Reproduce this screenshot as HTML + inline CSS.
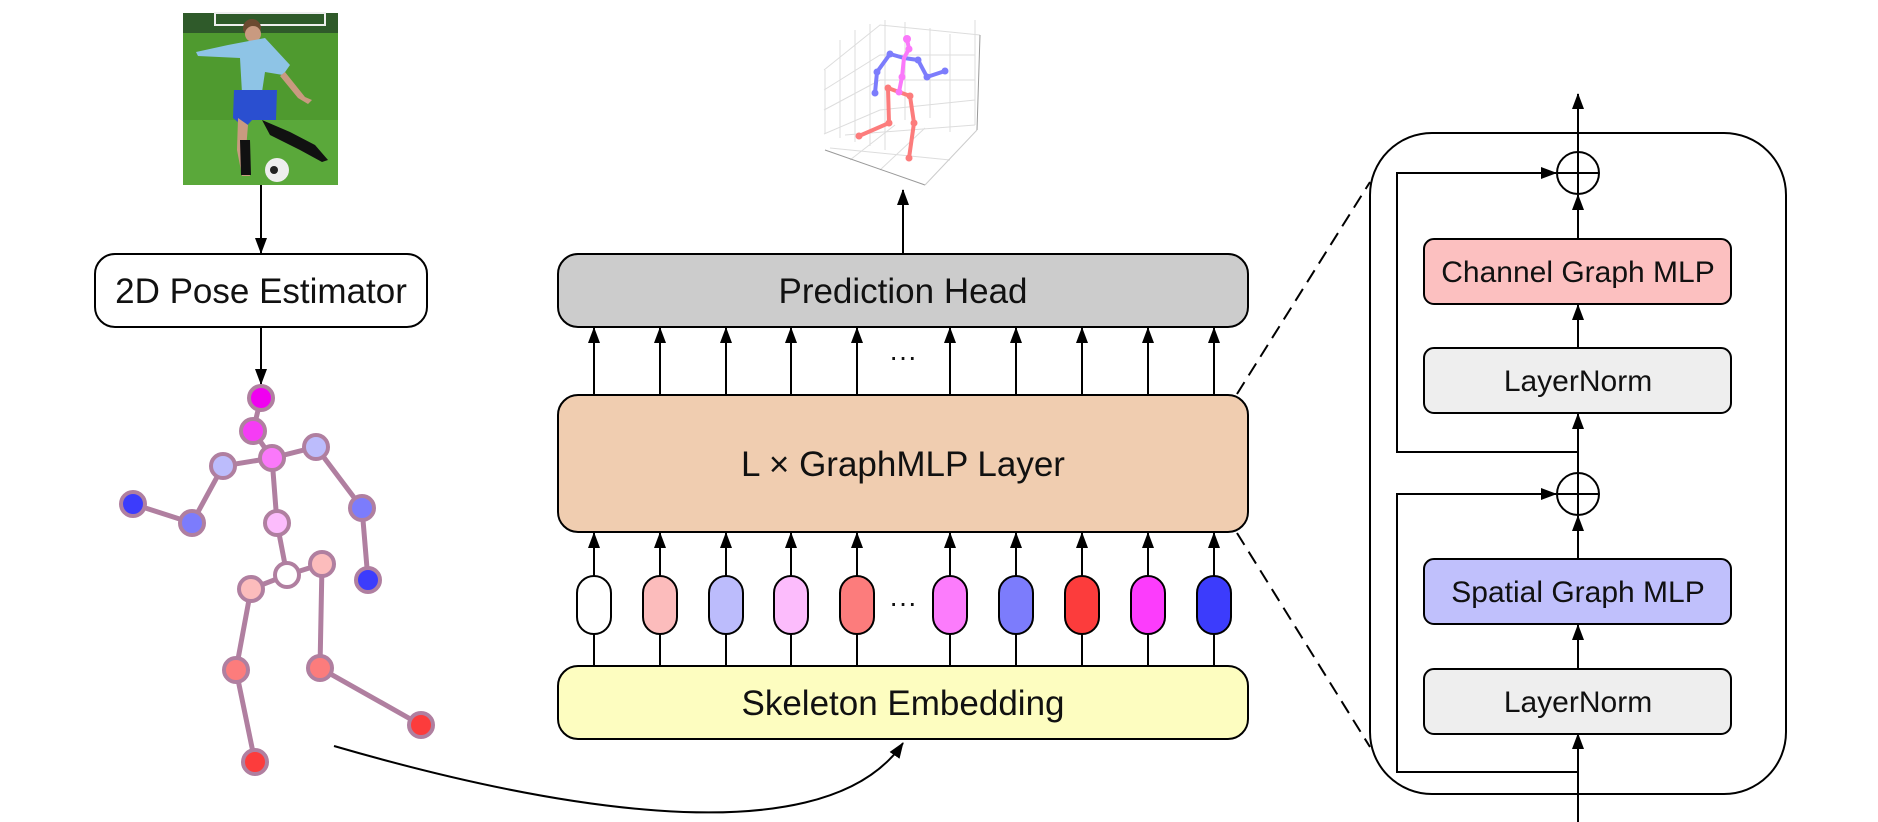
<!DOCTYPE html>
<html><head><meta charset="utf-8"><style>
html,body{margin:0;padding:0;background:#fff;}
svg{display:block;}
text{font-family:"Liberation Sans",sans-serif;fill:#111;}
</style></head><body>
<svg width="1878" height="822" viewBox="0 0 1878 822" xmlns="http://www.w3.org/2000/svg">
<defs>
<marker id="ahb" markerWidth="16" markerHeight="14" refX="15" refY="7" orient="auto" markerUnits="userSpaceOnUse">
<path d="M0,1 L16,7 L0,13 Z" fill="#000"/></marker>
</defs>

<!-- photo -->
<rect x="183" y="13" width="155" height="172" fill="#4f9a2f"/>
<rect x="183" y="13" width="155" height="20" fill="#2f5a2a"/>
<rect x="215" y="13" width="110" height="12" fill="none" stroke="#eee" stroke-width="2"/>
<rect x="183" y="120" width="155" height="65" fill="#5aa83a"/>
<circle cx="252" cy="28" r="9" fill="#6b4a30"/>
<circle cx="253" cy="34" r="8" fill="#c99a80"/>
<path d="M196,52 L228,45 L265,38 L290,65 L283,75 L265,72 L262,92 L242,93 L240,58 L198,56Z" fill="#8ec4e6"/>
<path d="M285,72 L305,97 L312,100 L308,104 L298,98 L280,76Z" fill="#c99a80"/>
<path d="M234,90 L277,90 L276,120 L252,120 L245,128 L233,118Z" fill="#2a4fd0"/>
<path d="M238,118 L237,150 L242,176 L250,176 L246,150 L248,125Z" fill="#c99a80"/>
<path d="M240,140 L250,140 L251,175 L241,175Z" fill="#111"/>
<path d="M262,120 L290,132 L315,145 L328,160 L322,162 L300,150 L270,135Z" fill="#111"/>
<circle cx="277" cy="170" r="12" fill="#eee"/>
<circle cx="274" cy="170" r="4" fill="#222"/>

<line x1="261" y1="185" x2="261" y2="253" stroke="#000" stroke-width="2" marker-end="url(#ahb)"/>
<rect x="95" y="254" width="332" height="73" rx="20" fill="#fff" stroke="#000" stroke-width="2"/>
<text x="261" y="303" font-size="35" text-anchor="middle">2D Pose Estimator</text>
<line x1="261" y1="327" x2="261" y2="384" stroke="#000" stroke-width="2" marker-end="url(#ahb)"/>

<!-- 2D skeleton -->
<g stroke="#b07fa0" stroke-width="5" fill="none">
<polyline points="261,398 253,431 272,458 277,523 287,575"/>
<polyline points="133,504 192,523 223,466 272,458 316,447 362,508 368,580"/>
<polyline points="255,762 236,670 251,589 287,575 322,564 320,668 421,725"/>
</g>
<g stroke="#b07fa0" stroke-width="4">
<circle cx="261" cy="398" r="12" fill="#f000f0"/>
<circle cx="253" cy="431" r="12" fill="#f53cf5"/>
<circle cx="272" cy="458" r="12" fill="#fa78fa"/>
<circle cx="223" cy="466" r="12" fill="#bcbcfc"/>
<circle cx="192" cy="523" r="12" fill="#7c7cfc"/>
<circle cx="133" cy="504" r="12" fill="#3c3cfc"/>
<circle cx="316" cy="447" r="12" fill="#bcbcfc"/>
<circle cx="362" cy="508" r="12" fill="#7c7cfc"/>
<circle cx="368" cy="580" r="12" fill="#3c3cfc"/>
<circle cx="277" cy="523" r="12" fill="#fcbcfc"/>
<circle cx="287" cy="575" r="12" fill="#ffffff"/>
<circle cx="251" cy="589" r="12" fill="#fcbcbc"/>
<circle cx="322" cy="564" r="12" fill="#fcbcbc"/>
<circle cx="236" cy="670" r="12" fill="#fc7c7c"/>
<circle cx="320" cy="668" r="12" fill="#fc7c7c"/>
<circle cx="255" cy="762" r="12" fill="#fc3c3c"/>
<circle cx="421" cy="725" r="12" fill="#fc3c3c"/>
</g>

<path d="M334,746 C520,800 820,865 903,743" fill="none" stroke="#000" stroke-width="2" marker-end="url(#ahb)"/>

<!-- 3D plot -->
<g stroke="#ddd" stroke-width="1" fill="none">
<line x1="825" y1="70" x2="825" y2="134"/>
<line x1="840" y1="40" x2="840" y2="138"/>
<line x1="855" y1="30" x2="855" y2="142"/>
<line x1="870" y1="24" x2="870" y2="146"/>
<line x1="885" y1="20" x2="885" y2="150"/>
<line x1="905" y1="22" x2="905" y2="120"/>
<line x1="930" y1="28" x2="930" y2="118"/>
<line x1="950" y1="34" x2="950" y2="132"/>
<line x1="975" y1="20" x2="975" y2="125"/>
<polyline points="824,70 880,25 980,35"/>
<polyline points="824,90 880,55 975,55"/>
<polyline points="824,110 880,80 975,80"/>
<polyline points="824,134 880,110 975,100"/>
<line x1="845" y1="135" x2="975" y2="125"/>
<line x1="850" y1="160" x2="895" y2="125"/>
<line x1="880" y1="170" x2="925" y2="128"/>
<line x1="830" y1="148" x2="950" y2="160"/>
</g>
<line x1="825" y1="150" x2="925" y2="185" stroke="#999" stroke-width="1"/>
<line x1="925" y1="185" x2="977" y2="130" stroke="#ccc" stroke-width="1"/>
<line x1="980" y1="35" x2="977" y2="130" stroke="#999" stroke-width="1"/>
<g stroke-width="4" fill="none" stroke-linecap="round">
<polyline stroke="#7c7cfc" points="904,58 890,54 877,72 875,93"/>
<polyline stroke="#7c7cfc" points="904,58 918,60 927,77 945,71"/>
<polyline stroke="#fc7c7c" points="899,92 888,88 889,123 859,136"/>
<polyline stroke="#fc7c7c" points="899,92 910,96 914,123 909,158"/>
<polyline stroke="#fa78fa" points="907,39 909,49 904,58 902,77 899,92"/>
</g>
<g>
<circle cx="907" cy="39" r="4" fill="#fa78fa"/><circle cx="909" cy="49" r="3.5" fill="#fa78fa"/>
<circle cx="902" cy="77" r="3.5" fill="#fa78fa"/><circle cx="899" cy="92" r="3.5" fill="#fa78fa"/>
<circle cx="890" cy="54" r="3.5" fill="#7c7cfc"/><circle cx="877" cy="72" r="3.5" fill="#7c7cfc"/><circle cx="875" cy="93" r="3.5" fill="#7c7cfc"/>
<circle cx="918" cy="60" r="3.5" fill="#7c7cfc"/><circle cx="927" cy="77" r="3.5" fill="#7c7cfc"/><circle cx="945" cy="71" r="3.5" fill="#7c7cfc"/>
<circle cx="888" cy="88" r="3.5" fill="#fc7c7c"/><circle cx="889" cy="123" r="3.5" fill="#fc7c7c"/><circle cx="859" cy="136" r="3.5" fill="#fc7c7c"/>
<circle cx="910" cy="96" r="3.5" fill="#fc7c7c"/><circle cx="914" cy="123" r="3.5" fill="#fc7c7c"/><circle cx="909" cy="158" r="3.5" fill="#fc7c7c"/>
</g>

<!-- middle column -->
<line x1="903" y1="254" x2="903" y2="190" stroke="#000" stroke-width="2" marker-end="url(#ahb)"/>
<rect x="558" y="254" width="690" height="73" rx="20" fill="#cccccc" stroke="#000" stroke-width="2"/>
<text x="903" y="303" font-size="35" text-anchor="middle">Prediction Head</text>

<g stroke="#000" stroke-width="2">
<line x1="594" y1="395" x2="594" y2="328" marker-end="url(#ahb)"/>
<line x1="660" y1="395" x2="660" y2="328" marker-end="url(#ahb)"/>
<line x1="726" y1="395" x2="726" y2="328" marker-end="url(#ahb)"/>
<line x1="791" y1="395" x2="791" y2="328" marker-end="url(#ahb)"/>
<line x1="857" y1="395" x2="857" y2="328" marker-end="url(#ahb)"/>
<line x1="950" y1="395" x2="950" y2="328" marker-end="url(#ahb)"/>
<line x1="1016" y1="395" x2="1016" y2="328" marker-end="url(#ahb)"/>
<line x1="1082" y1="395" x2="1082" y2="328" marker-end="url(#ahb)"/>
<line x1="1148" y1="395" x2="1148" y2="328" marker-end="url(#ahb)"/>
<line x1="1214" y1="395" x2="1214" y2="328" marker-end="url(#ahb)"/>
</g>
<text x="903" y="366" font-size="28" text-anchor="middle">···</text>

<rect x="558" y="395" width="690" height="137" rx="20" fill="#f0cdb0" stroke="#000" stroke-width="2"/>
<text x="903" y="476" font-size="35" text-anchor="middle">L × GraphMLP Layer</text>

<g stroke="#000" stroke-width="2">
<line x1="594" y1="666" x2="594" y2="533" marker-end="url(#ahb)"/>
<line x1="660" y1="666" x2="660" y2="533" marker-end="url(#ahb)"/>
<line x1="726" y1="666" x2="726" y2="533" marker-end="url(#ahb)"/>
<line x1="791" y1="666" x2="791" y2="533" marker-end="url(#ahb)"/>
<line x1="857" y1="666" x2="857" y2="533" marker-end="url(#ahb)"/>
<line x1="950" y1="666" x2="950" y2="533" marker-end="url(#ahb)"/>
<line x1="1016" y1="666" x2="1016" y2="533" marker-end="url(#ahb)"/>
<line x1="1082" y1="666" x2="1082" y2="533" marker-end="url(#ahb)"/>
<line x1="1148" y1="666" x2="1148" y2="533" marker-end="url(#ahb)"/>
<line x1="1214" y1="666" x2="1214" y2="533" marker-end="url(#ahb)"/>
</g>
<g stroke="#000" stroke-width="2">
<rect x="577" y="576" width="34" height="58" rx="17" fill="#ffffff"/>
<rect x="643" y="576" width="34" height="58" rx="17" fill="#fcbcbc"/>
<rect x="709" y="576" width="34" height="58" rx="17" fill="#bcbcfc"/>
<rect x="774" y="576" width="34" height="58" rx="17" fill="#fcbcfc"/>
<rect x="840" y="576" width="34" height="58" rx="17" fill="#fc7c7c"/>
<rect x="933" y="576" width="34" height="58" rx="17" fill="#fc7cfc"/>
<rect x="999" y="576" width="34" height="58" rx="17" fill="#7c7cfc"/>
<rect x="1065" y="576" width="34" height="58" rx="17" fill="#fc3c3c"/>
<rect x="1131" y="576" width="34" height="58" rx="17" fill="#fc3cfc"/>
<rect x="1197" y="576" width="34" height="58" rx="17" fill="#3c3cfc"/>
</g>
<text x="903" y="612" font-size="28" text-anchor="middle">···</text>

<rect x="558" y="666" width="690" height="73" rx="20" fill="#fdfdc0" stroke="#000" stroke-width="2"/>
<text x="903" y="715" font-size="35" text-anchor="middle">Skeleton Embedding</text>

<line x1="1237" y1="394" x2="1370" y2="182" stroke="#000" stroke-width="2" stroke-dasharray="14,8"/>
<line x1="1237" y1="533" x2="1370" y2="747" stroke="#000" stroke-width="2" stroke-dasharray="14,8"/>

<!-- right panel -->
<rect x="1370" y="133" width="416" height="661" rx="62" fill="#fff" stroke="#000" stroke-width="2"/>
<g stroke="#000" stroke-width="2" fill="none">
<line x1="1578" y1="822" x2="1578" y2="734" marker-end="url(#ahb)"/>
<line x1="1578" y1="669" x2="1578" y2="625" marker-end="url(#ahb)"/>
<line x1="1578" y1="559" x2="1578" y2="516" marker-end="url(#ahb)"/>
<line x1="1578" y1="473" x2="1578" y2="414" marker-end="url(#ahb)"/>
<line x1="1578" y1="348" x2="1578" y2="305" marker-end="url(#ahb)"/>
<line x1="1578" y1="239" x2="1578" y2="195" marker-end="url(#ahb)"/>
<line x1="1578" y1="152" x2="1578" y2="94" marker-end="url(#ahb)"/>
<polyline points="1578,772 1397,772 1397,494 1556,494" marker-end="url(#ahb)"/>
<polyline points="1578,452 1397,452 1397,173 1556,173" marker-end="url(#ahb)"/>
<circle cx="1578" cy="173" r="21" fill="#fff"/>
<line x1="1557" y1="173" x2="1599" y2="173"/><line x1="1578" y1="152" x2="1578" y2="194"/>
<circle cx="1578" cy="494" r="21" fill="#fff"/>
<line x1="1557" y1="494" x2="1599" y2="494"/><line x1="1578" y1="473" x2="1578" y2="515"/>
</g>
<g stroke="#000" stroke-width="2">
<rect x="1424" y="239" width="307" height="65" rx="10" fill="#fcc0c0"/>
<rect x="1424" y="348" width="307" height="65" rx="10" fill="#eeeeee"/>
<rect x="1424" y="559" width="307" height="65" rx="10" fill="#c0c0fc"/>
<rect x="1424" y="669" width="307" height="65" rx="10" fill="#eeeeee"/>
</g>
<text x="1578" y="282" font-size="30" text-anchor="middle">Channel Graph MLP</text>
<text x="1578" y="391" font-size="30" text-anchor="middle">LayerNorm</text>
<text x="1578" y="602" font-size="30" text-anchor="middle">Spatial Graph MLP</text>
<text x="1578" y="712" font-size="30" text-anchor="middle">LayerNorm</text>
</svg>
</body></html>
